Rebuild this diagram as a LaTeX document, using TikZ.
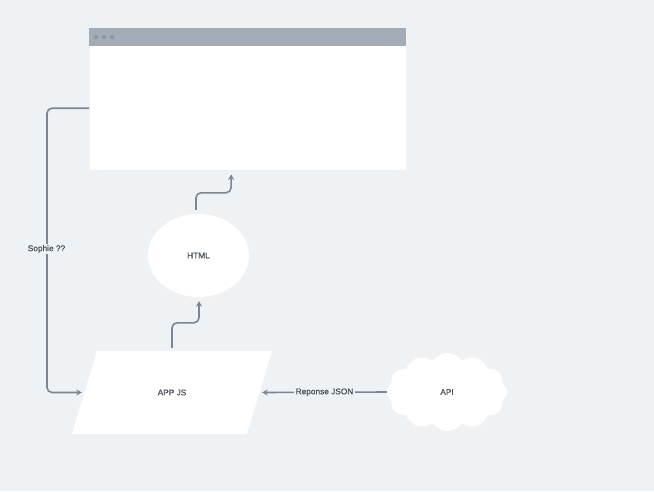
\documentclass[tikz,border=0pt]{standalone}
\usepackage{fontspec}
\setmainfont{Liberation Sans}[FakeBold=0.6]
\usetikzlibrary{arrows.meta,shapes.geometric,shapes.symbols}
\definecolor{bgc}{HTML}{EFF2F5}
\definecolor{barc}{HTML}{A2ACB7}
\definecolor{dotc}{HTML}{8C97A3}
\definecolor{linec}{HTML}{7B8692}
\definecolor{txtc}{HTML}{4A5057}
\tikzset{
  conn/.style={draw=linec, line width=1.6pt, rounded corners=5pt, -{Stealth[length=5.5pt,width=6pt]}},
  lbl/.style={font=\fontsize{8.3}{9}\selectfont, text=txtc},
  shapebox/.style={fill=white, draw=none, inner sep=0pt},
}
\begin{document}
\begin{tikzpicture}[x=1pt,y=-1pt]
\fill[bgc] (0,0) rectangle (654,491);
\useasboundingbox (0,0) rectangle (654,491);
% browser
\node[shapebox, draw=black!6, minimum width=317pt, minimum height=142pt, anchor=north west] (browser) at (89,28) {};
\fill[barc] (browser.north west) rectangle ([yshift=-18pt]browser.north east);
\fill[dotc] (96,37) circle (2.2pt);
\fill[dotc] (104,37) circle (2.2pt);
\fill[dotc] (112,37) circle (2.2pt);
% nodes
\node[shapebox, ellipse, minimum width=101pt, minimum height=83pt, lbl] (html) at (198.5,255.5) {HTML};
\fill[white] (97,351) -- (272,351) -- (247,434) -- (72,434) -- cycle;
\node[inner sep=0pt, minimum width=175pt, minimum height=83pt, lbl] (app) at (172,392.5) {APP JS};
\node[shapebox, cloud, cloud puffs=12, cloud puff arc=110, aspect=1.6, minimum width=120pt, minimum height=78pt, lbl] (api) at (447,392) {API};
% connectors
\draw[conn] ([yshift=-9pt]browser.west) -- ++(-42,0) |- ([xshift=-2.5pt]app.west);
\node[lbl, fill=bgc, inner sep=1.5pt] (sophie) at (46.5,249) {Sophie ??};
\draw[conn] ([yshift=3pt]app.north) |- ++(27,-25) -- ([xshift=0.5pt,yshift=-4pt]html.south);
\draw[conn] ([xshift=-2.5pt,yshift=4pt]html.north) |- ++(35,-17) -- ([xshift=-16.5pt,yshift=-4pt]browser.south);
\draw[conn] (api.west) -- node[lbl, fill=bgc, inner sep=1.5pt] (json) {Reponse JSON} ([xshift=2.5pt]app.east);
\end{tikzpicture}
\end{document}
